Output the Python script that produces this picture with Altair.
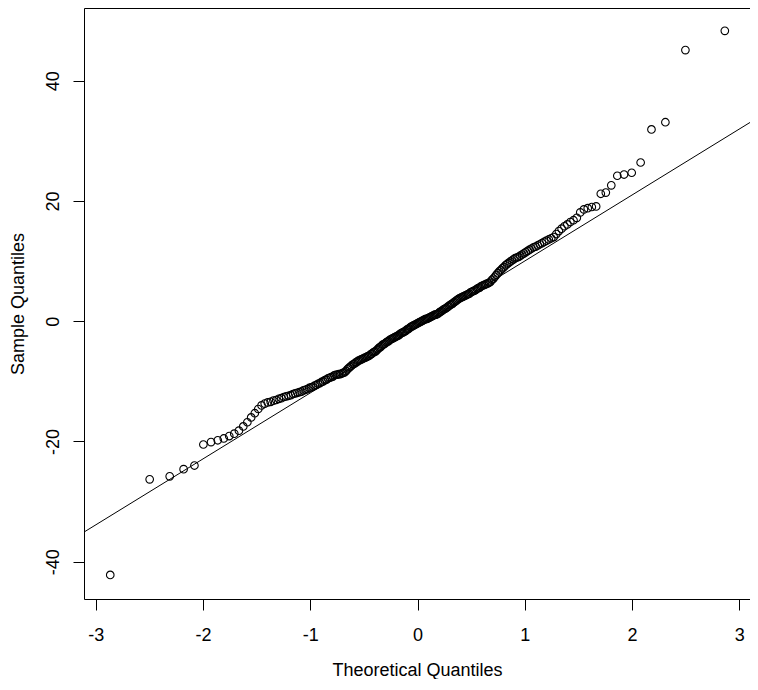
import altair as alt
import pandas as pd

# Sorted sample values (n = 240)
sample_values = [
    -42.2, -26.3, -25.8, -24.6, -24.0,
    -20.5, -20.1, -19.8, -19.5, -19.1, -18.7, -18.2, -17.5, -16.8, -16.0, -15.3, -14.6, -14.0, -13.7, -13.5,
    -13.4, -13.2, -13.1, -12.9, -12.8, -12.6, -12.5, -12.4, -12.3, -12.1, -12.0, -11.9, -11.8, -11.7, -11.5, -11.4, -11.3, -11.1, -11.0, -10.9,
    -10.7, -10.6, -10.4, -10.3, -10.1, -10.0, -9.8, -9.7, -9.5, -9.4, -9.3, -9.2, -9.0, -8.9, -8.9, -8.8, -8.8, -8.7, -8.6, -8.5,
    -8.3, -8.0, -7.8, -7.6, -7.4, -7.2, -7.1, -6.9, -6.8, -6.6, -6.5, -6.4, -6.3, -6.2, -6.1, -6.0, -5.9, -5.8, -5.7, -5.5,
    -5.4, -5.2, -5.1, -5.0, -4.8, -4.6, -4.4, -4.3, -4.1, -3.9, -3.8, -3.7, -3.5, -3.4, -3.3, -3.1, -3.0, -2.9, -2.8, -2.7,
    -2.6, -2.5, -2.4, -2.3, -2.1, -2.0, -1.9, -1.8, -1.7, -1.6, -1.4, -1.3, -1.2, -1.0, -0.9, -0.8, -0.7, -0.6, -0.5, -0.4,
    -0.3, -0.2, -0.1, 0.0, 0.1, 0.2, 0.3, 0.4, 0.4, 0.5, 0.6, 0.7, 0.8, 0.9, 1.0, 1.1, 1.1, 1.2, 1.3, 1.5,
    1.6, 1.7, 1.9, 2.0, 2.1, 2.2, 2.4, 2.5, 2.7, 2.8, 2.9, 3.1, 3.2, 3.4, 3.5, 3.7, 3.8, 3.9, 4.0, 4.1,
    4.2, 4.3, 4.4, 4.5, 4.6, 4.8, 4.9, 5.0, 5.1, 5.2, 5.4, 5.5, 5.6, 5.8, 5.9, 6.0, 6.1, 6.2, 6.3, 6.4,
    6.6, 6.9, 7.1, 7.4, 7.7, 8.0, 8.3, 8.5, 8.8, 9.0, 9.3, 9.5, 9.7, 9.9, 10.1, 10.3, 10.5, 10.6, 10.7, 10.9,
    11.1, 11.3, 11.5, 11.7, 11.9, 12.1, 12.3, 12.4, 12.6, 12.8, 13.0, 13.2, 13.4, 13.6, 13.8, 14.0, 14.5, 15.0, 15.4, 15.8,
    16.1, 16.5, 16.8, 17.2, 18.1, 18.6, 18.8, 19.0, 19.1, 21.2, 21.4, 22.6, 24.2, 24.4, 24.7, 26.4, 31.9, 33.1, 45.1, 48.3,
]

x_ticks = [-3, -2, -1, 0, 1, 2, 3]
y_ticks = [-40, -20, 0, 20, 40]
x_domain = [-3.11, 3.10]
y_domain = [-46.2, 52.1]

FONT = "Liberation Sans"
FS = 18

df = pd.DataFrame({"sample": sample_values})
base = alt.Chart(df)

xs = alt.Scale(domain=x_domain, nice=False, zero=False)
ys = alt.Scale(domain=y_domain, nice=False, zero=False)

x_axis = alt.Axis(
    values=x_ticks, title="Theoretical Quantiles", grid=False, domain=False,
    tickSize=11, tickColor="black", tickWidth=1,
    labelExpr="datum.value + ''",
    labelFont=FONT, labelFontSize=FS, labelColor="black", labelPadding=16,
    labelFlush=False, labelOverlap=False,
    titleFont=FONT, titleFontSize=FS, titleFontWeight="normal", titleColor="black",
    titleY=71, titleBaseline="middle",
)
y_axis = alt.Axis(
    values=y_ticks, title="Sample Quantiles", grid=False, domain=False,
    tickSize=11, tickColor="black", tickWidth=1,
    labelExpr="datum.value + ''",
    labelFont=FONT, labelFontSize=FS, labelColor="black", labelPadding=11,
    labelAngle=270, labelAlign="center", labelBaseline="bottom",
    labelFlush=False, labelOverlap=False,
    titleFont=FONT, titleFontSize=FS, titleFontWeight="normal", titleColor="black",
    titleAngle=270, titleX=-66, titleBaseline="middle",
)

points = (
    base.transform_window(rank="row_number()", sort=[alt.SortField("sample")])
    .transform_joinaggregate(n="count()")
    .transform_calculate(theo="quantileNormal((datum.rank - 0.5) / datum.n)")
    .mark_point(shape="circle", filled=False, color="black", size=58, strokeWidth=1.1, opacity=1)
    .encode(
        x=alt.X("theo:Q", scale=xs, axis=x_axis),
        y=alt.Y("sample:Q", scale=ys, axis=y_axis),
    )
)

qqline = (
    base.transform_aggregate(q1="q1(sample)", q3="q3(sample)")
    .transform_calculate(slope="(datum.q3 - datum.q1) / (quantileNormal(0.75) - quantileNormal(0.25))")
    .transform_calculate(intercept="datum.q1 - datum.slope * quantileNormal(0.25)")
    .transform_calculate(xa=str(x_domain[0]), xb=str(x_domain[1]))
    .transform_calculate(
        ya="datum.intercept + datum.slope * datum.xa",
        yb="datum.intercept + datum.slope * datum.xb",
    )
    .mark_rule(color="black", strokeWidth=1, clip=True)
    .encode(
        x=alt.X("xa:Q", scale=xs),
        x2="xb:Q",
        y=alt.Y("ya:Q", scale=ys),
        y2="yb:Q",
    )
)

chart = (
    alt.layer(qqline, points)
    .properties(
        width=666, height=591,
        autosize=alt.AutoSizeParams(type="none"),
        padding={"left": 76, "top": 0, "right": 0, "bottom": 80},
        background="white",
    )
    .configure_view(stroke="black", strokeWidth=1)
)

chart.save("out.html", embed_options={"renderer": "svg", "actions": False})
